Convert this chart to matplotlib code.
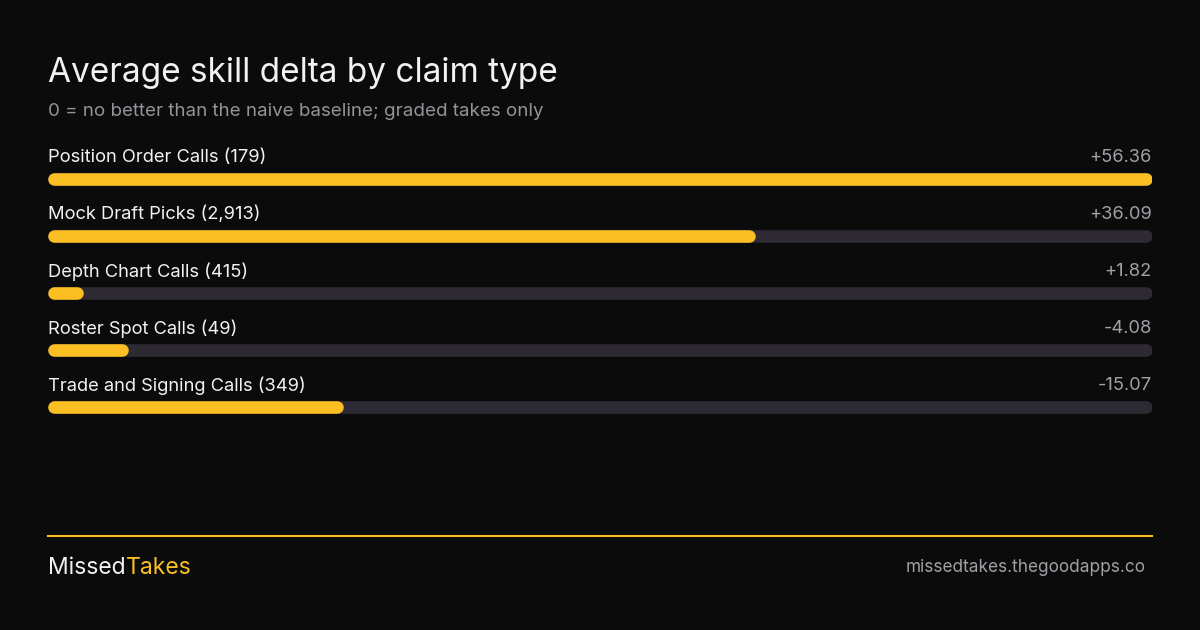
import matplotlib
matplotlib.use("Agg")
import matplotlib.pyplot as plt

# data
categories = ["Position Order Calls", "Mock Draft Picks", "Depth Chart Calls",
              "Roster Spot Calls", "Trade and Signing Calls"]
counts = [179, 2913, 415, 49, 349]
deltas = [56.36, 36.09, 1.82, -4.08, -15.07]

BG = "#0b0b0b"
YELLOW = "#fbbf24"
TRACK = "#2d2a33"
WHITE = "#f2f2f2"
GREY = "#a0a0a6"

plt.rcParams["font.family"] = ["Inter", "DejaVu Sans"]

W, H = 1200, 630
fig = plt.figure(figsize=(12, 6.3), dpi=100, facecolor=BG)

def px(x, y):
    # pixel coords (top-left origin) -> figure fraction
    return x / W, 1 - y / H

fig.text(*px(48, 73), "Average skill delta by claim type", color=WHITE,
         fontsize=24, va="center", ha="left")
fig.text(*px(48, 111), "0 = no better than the naive baseline; graded takes only",
         color="#939399", fontsize=13.5, va="center", ha="left")

# bar area: x 48..1152, rows 57px tall, first bar centre at y=179
top, row_h = 150.5, 57
n = len(categories)
ax = fig.add_axes([48 / W, 1 - (top + n * row_h) / H, 1104 / W, n * row_h / H])
ax.set_facecolor("none")
ax.axis("off")
vmax = max(abs(v) for v in deltas)
ax.set_xlim(0, vmax)
ax.set_ylim(n - 0.5, -0.5)

bar_px = 12.6
lw = bar_px * 72 / 100
r = (bar_px / 2) / 1104 * vmax  # cap radius in data units

for i, (cat, c, v) in enumerate(zip(categories, counts, deltas)):
    ax.plot([r, vmax - r], [i, i], color=TRACK, lw=lw, solid_capstyle="round")
    w = abs(v)
    ax.plot([r, max(w - r, r)], [i, i], color=YELLOW, lw=lw, solid_capstyle="round")
    ax.text(0, i - 0.38, f"{cat} ({c:,})", color=WHITE, fontsize=13.2,
            va="center", ha="left")
    ax.text(vmax, i - 0.38, f"{v:+.2f}", color=GREY, fontsize=13.2,
            va="center", ha="right")

# footer
fig.add_artist(plt.Line2D([48 / W, 1152 / W], [1 - 536 / H] * 2, color=YELLOW, lw=1.5))
t = fig.text(*px(48, 568), "Missed", color=WHITE, fontsize=16.5, va="center", ha="left")
fig.canvas.draw()
bb = t.get_window_extent()
fig.text(bb.x1 / W, 1 - 568 / H, "Takes", color=YELLOW, fontsize=16.5,
         va="center", ha="left")
fig.text(*px(1146, 568), "missedtakes.thegoodapps.co", color=GREY, fontsize=12.4,
         va="center", ha="right")

fig.savefig("out.png", dpi=100, facecolor=BG)
